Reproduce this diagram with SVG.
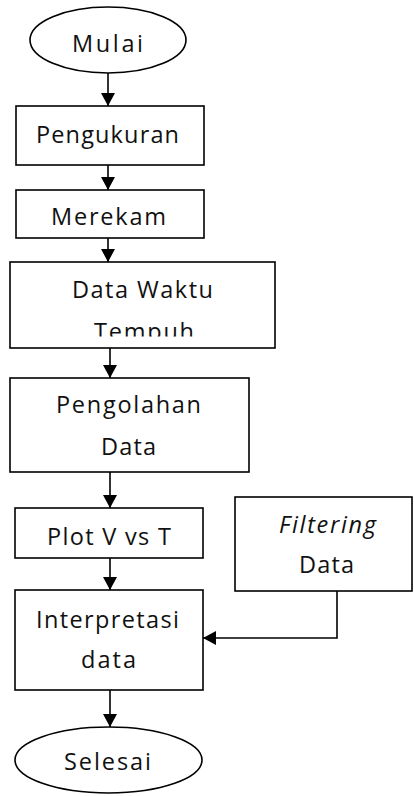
<svg xmlns="http://www.w3.org/2000/svg" width="414" height="796" viewBox="0 0 414 796">
  <style>
    .shape { fill: #ffffff; stroke: #000000; stroke-width: 1.6; }
    .link { fill: none; stroke: #000000; stroke-width: 1.6; }
    .label { font-family: "Open Sans", "Noto Sans", "Liberation Sans", sans-serif; font-size: 23.5px; fill: #111111; }
    .em { font-style: italic; }
  </style>
  <defs>
    <marker id="head" markerUnits="userSpaceOnUse" markerWidth="14" markerHeight="14" refX="13" refY="7" orient="auto">
      <path d="M0,0 L13,7 L0,14 Z" fill="#000000"/>
    </marker>
    <clipPath id="waktu-clip">
      <rect x="10" y="262" width="265" height="74.5"/>
    </clipPath>
  </defs>

  <rect width="414" height="796" fill="#ffffff"/>

  <!-- connectors -->
  <g id="connectors">
    <line class="link" x1="108" y1="73" x2="108" y2="106" marker-end="url(#head)"/>
    <line class="link" x1="108" y1="165" x2="108" y2="190" marker-end="url(#head)"/>
    <line class="link" x1="108" y1="238" x2="108" y2="262" marker-end="url(#head)"/>
    <line class="link" x1="110" y1="348" x2="110" y2="378" marker-end="url(#head)"/>
    <line class="link" x1="110" y1="472" x2="110" y2="508" marker-end="url(#head)"/>
    <line class="link" x1="110" y1="558" x2="110" y2="590" marker-end="url(#head)"/>
    <line class="link" x1="110" y1="690" x2="110" y2="727" marker-end="url(#head)"/>
    <polyline class="link" points="337,591 337,638 203,638" marker-end="url(#head)"/>
  </g>

  <!-- start terminal -->
  <g id="mulai">
    <ellipse class="shape" cx="108" cy="40" rx="78" ry="33"/>
    <text class="label" x="72" y="52" textLength="71" lengthAdjust="spacing">Mulai</text>
  </g>

  <g id="pengukuran">
    <rect class="shape" x="16" y="106" width="188" height="59"/>
    <text class="label" x="36" y="143" textLength="143" lengthAdjust="spacing">Pengukuran</text>
  </g>

  <g id="merekam">
    <rect class="shape" x="16" y="190" width="188" height="48"/>
    <text class="label" x="51" y="225" textLength="115" lengthAdjust="spacing">Merekam</text>
  </g>

  <g id="data-waktu">
    <rect class="shape" x="10" y="262" width="265" height="86"/>
    <text class="label" x="72" y="298" textLength="141" lengthAdjust="spacing">Data Waktu</text>
    <g clip-path="url(#waktu-clip)">
      <text class="label" x="94" y="340" textLength="100" lengthAdjust="spacing">Tempuh</text>
    </g>
  </g>

  <g id="pengolahan">
    <rect class="shape" x="10" y="378" width="239" height="94"/>
    <text class="label" x="56" y="413" textLength="145" lengthAdjust="spacing">Pengolahan</text>
    <text class="label" x="101" y="455" textLength="55" lengthAdjust="spacing">Data</text>
  </g>

  <g id="plot">
    <rect class="shape" x="15" y="508" width="188" height="50"/>
    <text class="label" x="47" y="545" textLength="124" lengthAdjust="spacing">Plot V vs T</text>
  </g>

  <g id="filtering">
    <rect class="shape" x="235" y="497" width="177" height="94"/>
    <text class="label em" x="279" y="533" textLength="97" lengthAdjust="spacing">Filtering</text>
    <text class="label" x="299" y="573" textLength="55" lengthAdjust="spacing">Data</text>
  </g>

  <g id="interpretasi">
    <rect class="shape" x="15" y="590" width="188" height="100"/>
    <text class="label" x="36" y="628" textLength="143" lengthAdjust="spacing">Interpretasi</text>
    <text class="label" x="81" y="668" textLength="55" lengthAdjust="spacing">data</text>
  </g>

  <!-- end terminal -->
  <g id="selesai">
    <ellipse class="shape" cx="108.5" cy="760" rx="93.5" ry="33"/>
    <text class="label" x="64" y="770" textLength="87" lengthAdjust="spacing">Selesai</text>
  </g>
</svg>
